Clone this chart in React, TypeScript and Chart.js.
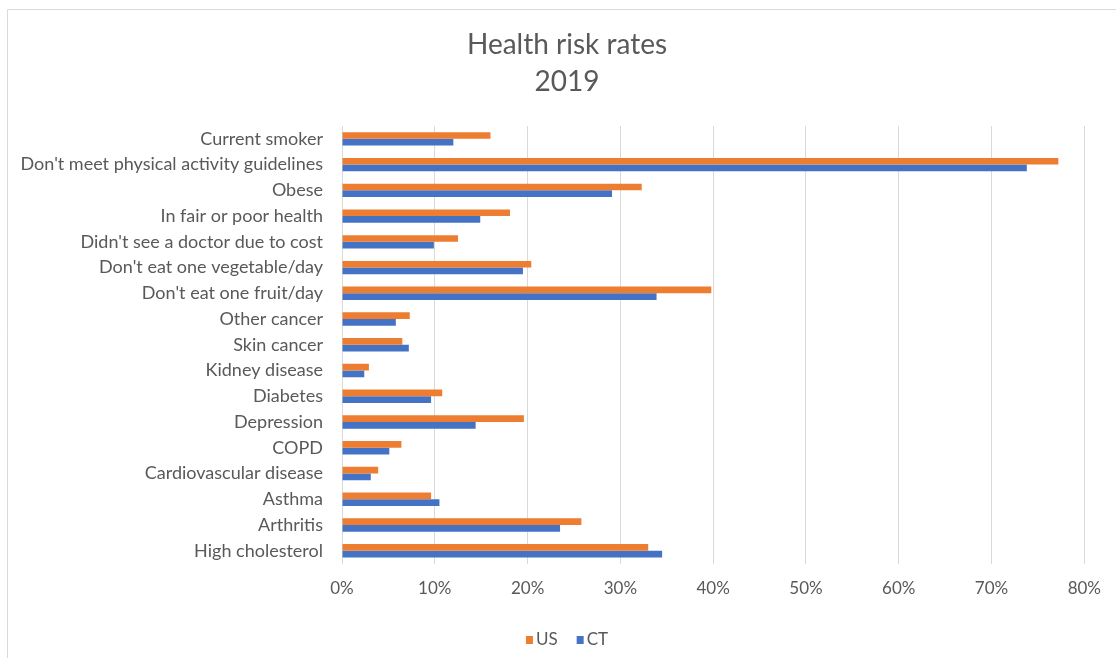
import { useEffect, useRef } from 'react';
import { Chart, registerables } from 'chart.js';

Chart.register(...registerables);

const categories = [
  'Current smoker',
  "Don't meet physical activity guidelines",
  'Obese',
  'In fair or poor health',
  "Didn't see a doctor due to cost",
  "Don't eat one vegetable/day",
  "Don't eat one fruit/day",
  'Other cancer',
  'Skin cancer',
  'Kidney disease',
  'Diabetes',
  'Depression',
  'COPD',
  'Cardiovascular disease',
  'Asthma',
  'Arthritis',
  'High cholesterol',
];

const usRates = [16.0, 77.2, 32.3, 18.1, 12.5, 20.4, 39.8, 7.3, 6.5, 2.9, 10.8, 19.6, 6.4, 3.9, 9.6, 25.8, 33.0];
const ctRates = [12.0, 73.8, 29.1, 14.9, 9.9, 19.5, 33.9, 5.8, 7.2, 2.4, 9.6, 14.4, 5.1, 3.1, 10.5, 23.5, 34.5];

const titleLines = ['Health risk rates', '2019'];
const seriesNames = ['US', 'CT'];
const seriesColors = ['#ED7D31', '#4472C4'];

const FONT = 'Lato, "Open Sans", sans-serif';
const TEXT_COLOR = '#595959';
const GRID_COLOR = '#d9d9d9';

// Thin frame along the top and left edges of the chart.
const framePlugin = {
  id: 'frame',
  beforeDraw(chart: any) {
    const { ctx, width, height } = chart;
    ctx.save();
    ctx.strokeStyle = GRID_COLOR;
    ctx.lineWidth = 1;
    ctx.beginPath();
    ctx.moveTo(7.5, height);
    ctx.lineTo(7.5, 9.5);
    ctx.lineTo(width, 9.5);
    ctx.stroke();
    ctx.restore();
  },
};

// The title is centred over the frame, which starts a little right of the labels.
const TITLE_LEFT = 46;
const titleOffsetPlugin = {
  id: 'titleOffset',
  afterLayout(chart: any) {
    const tb = chart.titleBlock;
    if (tb) tb.left = TITLE_LEFT;
  },
};

// Compact legend under the axis, centred like the title.
const legendPlugin = {
  id: 'compactLegend',
  afterDraw(chart: any) {
    const { ctx } = chart;
    const tb = chart.titleBlock;
    const cx = (tb.left + tb.right) / 2;
    const y = 640;
    const boxW = 7;
    const boxH = 8;
    const gap = 3;
    const itemGap = 19;
    ctx.save();
    ctx.font = `17px ${FONT}`;
    ctx.textBaseline = 'middle';
    ctx.textAlign = 'left';
    const items = chart.data.datasets.map((ds: any) => ({
      label: ds.label,
      color: ds.backgroundColor,
      w: boxW + gap + ctx.measureText(ds.label).width,
    }));
    const total = items.reduce((s: number, it: any) => s + it.w, 0) + itemGap * (items.length - 1);
    let x = cx - total / 2;
    for (const it of items) {
      ctx.fillStyle = it.color;
      ctx.fillRect(x, y - boxH / 2, boxW, boxH);
      ctx.fillStyle = TEXT_COLOR;
      ctx.fillText(it.label, x + boxW + gap, y);
      x += it.w + itemGap;
    }
    ctx.restore();
  },
};

export default function App() {
  const canvasRef = useRef<HTMLCanvasElement | null>(null);

  useEffect(() => {
    const canvas = canvasRef.current;
    if (!canvas) return;
    const chart = new Chart(canvas, {
      type: 'bar',
      data: {
        labels: categories,
        datasets: [
          { label: seriesNames[0], data: usRates, backgroundColor: seriesColors[0] },
          { label: seriesNames[1], data: ctRates, backgroundColor: seriesColors[1] },
        ],
      },
      options: {
        indexAxis: 'y',
        responsive: false,
        animation: false,
        events: [],
        datasets: {
          bar: { categoryPercentage: 0.52, barPercentage: 1 },
        },
        layout: { padding: { top: 0, left: 14, right: 28, bottom: 44 } },
        plugins: {
          legend: { display: false },
          tooltip: { enabled: false },
          title: {
            display: true,
            text: titleLines,
            color: TEXT_COLOR,
            font: { family: FONT, size: 28, weight: 'normal', lineHeight: 37 / 28 },
            padding: { top: 26, bottom: 26 },
          },
        },
        scales: {
          x: {
            min: 0,
            max: 80,
            border: { display: false },
            grid: { color: GRID_COLOR, drawTicks: false, lineWidth: 1 },
            ticks: {
              stepSize: 10,
              padding: 15,
              color: TEXT_COLOR,
              font: { family: FONT, size: 17 },
              callback: (v: any) => `${v}%`,
            },
          },
          y: {
            grid: { display: false, drawTicks: false },
            border: { display: true, color: GRID_COLOR },
            ticks: {
              padding: 19,
              color: TEXT_COLOR,
              font: { family: FONT, size: 18 },
              autoSkip: false,
            },
            afterFit: (scale: any) => {
              scale.width = 328;
            },
          },
        },
      },
      plugins: [framePlugin, titleOffsetPlugin, legendPlugin],
    });
    return () => chart.destroy();
  }, []);

  return (
    <div style={{ position: 'fixed', left: 0, top: 0, width: 1116, height: 658, background: '#fff' }}>
      <canvas ref={canvasRef} width={1116} height={658} style={{ display: 'block' }} />
    </div>
  );
}
